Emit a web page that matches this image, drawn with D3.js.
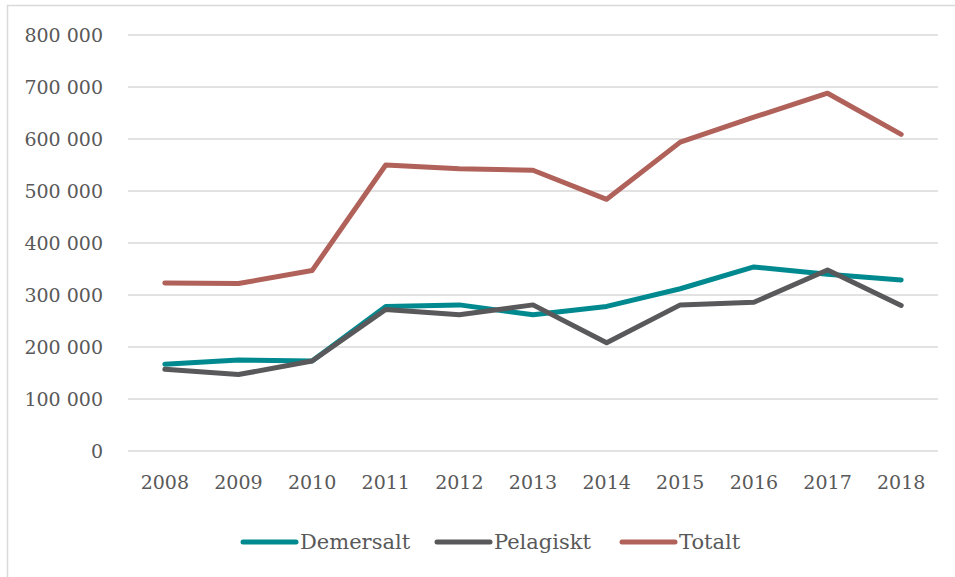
<!DOCTYPE html>
<html>
<head>
<meta charset="utf-8">
<script src="https://cdn.jsdelivr.net/npm/d3@7"></script>
<style>
	body { margin: 0; background: #fff; }
	svg { display: block; }
	text { font-family: "DejaVu Serif", "Liberation Serif", serif; fill: #595959; }
</style>
</head>
<body>
<div id="chart"></div>
<script>
"use strict";

var years = ["2008", "2009", "2010", "2011", "2012", "2013", "2014", "2015", "2016", "2017", "2018"];
var yTicks = [0, 100000, 200000, 300000, 400000, 500000, 600000, 700000, 800000];
var seriesNames = ["Demersalt", "Pelagiskt", "Totalt"];
var colors = ["#008a90", "#59595b", "#b0615a"];

var demersalt = [167000, 175000, 173000, 278000, 281000, 262000, 278000, 312000, 354000, 340000, 329000];
var pelagiskt = [157000, 147000, 173000, 272000, 262000, 281000, 208000, 281000, 286000, 348000, 280000];
var totalt = [323000, 322000, 347000, 550000, 543000, 540000, 484000, 594000, 642000, 688000, 609000];

var values = [demersalt, pelagiskt, totalt];

var W = 955, H = 577;
var margin = { left: 128, right: 17, top: 35, bottom: 126 };

var svg = d3.select("#chart").append("svg")
	.attr("width", W)
	.attr("height", H);

// outer frame (only top and left show inside the window)
svg.append("rect")
	.attr("x", 7.5).attr("y", 5.5)
	.attr("width", W + 10).attr("height", H + 10)
	.attr("fill", "none")
	.attr("stroke", "#d9d9d9")
	.attr("stroke-width", 1.5);

var x = d3.scaleBand()
	.domain(years)
	.range([margin.left, W - margin.right]);

var y = d3.scaleLinear()
	.domain([0, 800000])
	.range([H - margin.bottom, margin.top]);

var fmt = function (v) { return d3.format(",")(v).replace(/,/g, " "); };

// gridlines
svg.append("g").selectAll("line")
	.data(yTicks)
	.enter().append("line")
	.attr("x1", margin.left).attr("x2", W - margin.right)
	.attr("y1", function (d) { return y(d); })
	.attr("y2", function (d) { return y(d); })
	.attr("stroke", "#d9d9d9")
	.attr("stroke-width", 1.3);

// y axis
var yAxis = svg.append("g")
	.attr("transform", "translate(" + margin.left + ",0)")
	.call(d3.axisLeft(y).tickValues(yTicks).tickFormat(fmt).tickSize(0).tickPadding(25));
yAxis.select(".domain").remove();
yAxis.selectAll("text").style("font-size", "19px").attr("font-family", null);

// x axis
var xAxis = svg.append("g")
	.attr("transform", "translate(0," + y(0) + ")")
	.call(d3.axisBottom(x).tickSize(0).tickPadding(25));
xAxis.select(".domain").remove();
xAxis.selectAll("text").style("font-size", "19px").attr("font-family", null);

var line = d3.line()
	.x(function (d, i) { return x(years[i]) + x.bandwidth() / 2; })
	.y(function (d) { return y(d); });

// draw Totalt first, then Demersalt, then Pelagiskt on top
[2, 0, 1].forEach(function (k) {
	svg.append("path")
		.datum(values[k])
		.attr("d", line)
		.attr("fill", "none")
		.attr("stroke", colors[k])
		.attr("stroke-width", 5)
		.attr("stroke-linejoin", "round")
		.attr("stroke-linecap", "round");
});

// legend
var legendX = [243, 437, 622];
var legend = svg.append("g").attr("transform", "translate(0,542)");
seriesNames.forEach(function (name, k) {
	legend.append("line")
		.attr("x1", legendX[k]).attr("x2", legendX[k] + 53)
		.attr("y1", 0).attr("y2", 0)
		.attr("stroke", colors[k])
		.attr("stroke-width", 5)
		.attr("stroke-linecap", "round");
	legend.append("text")
		.attr("x", legendX[k] + 57)
		.attr("y", 0)
		.attr("dy", "0.35em")
		.style("font-size", "21px")
		.text(name);
});
</script>
</body>
</html>
